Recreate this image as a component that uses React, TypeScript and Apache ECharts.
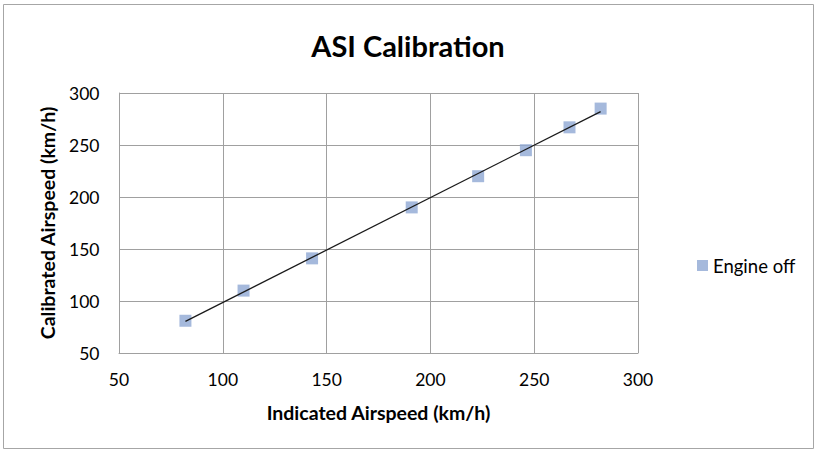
import React, { useEffect, useRef } from "react";
import * as echarts from "echarts";

const indicated: number[] = [82, 110, 143, 191, 223, 246, 267, 282];
const calibrated: number[] = [81, 110, 141, 190, 220, 245, 267, 285];
const seriesName = "Engine off";
const titleText = "ASI Calibration";
const xName = "Indicated Airspeed (km/h)";
const yName = "Calibrated Airspeed (km/h)";

function regression(xs: number[], ys: number[]) {
  const n = xs.length;
  const mx = xs.reduce((a, b) => a + b, 0) / n;
  const my = ys.reduce((a, b) => a + b, 0) / n;
  let sxy = 0, sxx = 0;
  for (let i = 0; i < n; i++) {
    sxy += (xs[i] - mx) * (ys[i] - my);
    sxx += (xs[i] - mx) * (xs[i] - mx);
  }
  const slope = sxy / sxx;
  return { slope, intercept: my - slope * mx };
}

export default function App() {
  const ref = useRef<HTMLDivElement>(null);
  useEffect(() => {
    if (!ref.current) return;
    const chart = echarts.init(ref.current, undefined, { renderer: "svg" });
    const { slope, intercept } = regression(indicated, calibrated);
    const xmin = Math.min(...indicated);
    const xmax = Math.max(...indicated);
    const font = "Lato, Carlito, Calibri, sans-serif";
    chart.setOption({
      animation: false,
      backgroundColor: "#ffffff",
      textStyle: { fontFamily: font },
      graphic: [
        {
          type: "rect",
          shape: { x: 3.5, y: 4.5, width: 810, height: 444 },
          style: { fill: "none", stroke: "#a6a6a6", lineWidth: 1 },
          silent: true,
        },
      ],
      title: {
        text: titleText,
        left: "center",
        top: 26,
        textStyle: { fontFamily: font, fontSize: 29, fontWeight: "bold", color: "#000" },
      },
      legend: {
        data: [seriesName],
        left: 692,
        top: 251,
        icon: "rect",
        itemWidth: 11,
        itemHeight: 11,
        itemGap: 5,
        textStyle: { fontFamily: font, fontSize: 18.5, color: "#000" },
      },
      grid: { left: 119, right: 178, top: 93, bottom: 99 },
      xAxis: {
        type: "value",
        min: 50,
        max: 300,
        interval: 50,
        name: xName,
        nameLocation: "middle",
        nameGap: 49,
        nameTextStyle: { fontFamily: font, fontSize: 19.5, fontWeight: "bold", color: "#000" },
        axisLine: { show: true, lineStyle: { color: "#a0a0a0", width: 1 } },
        axisTick: { show: false },
        axisLabel: { fontFamily: font, fontSize: 17.5, color: "#000", margin: 17 },
        splitLine: { show: true, lineStyle: { color: "#a0a0a0", width: 1 } },
      },
      yAxis: {
        type: "value",
        min: 50,
        max: 300,
        interval: 50,
        name: yName,
        nameLocation: "middle",
        nameGap: 62,
        nameTextStyle: { fontFamily: font, fontSize: 19.5, fontWeight: "bold", color: "#000" },
        axisLine: { show: true, lineStyle: { color: "#a0a0a0", width: 1 } },
        axisTick: { show: false },
        axisLabel: { fontFamily: font, fontSize: 17.5, color: "#000", margin: 19.5 },
        splitLine: { show: true, lineStyle: { color: "#a0a0a0", width: 1 } },
      },
      series: [
        {
          name: seriesName,
          type: "scatter",
          symbol: "rect",
          symbolSize: 12,
          itemStyle: { color: "#8ea7d3" },
          data: indicated.map((x, i) => [x, calibrated[i]]),
          z: 2,
        },
        {
          name: "trend",
          type: "line",
          symbol: "none",
          lineStyle: { color: "#1a1a1a", width: 1.3 },
          data: [
            [xmin, slope * xmin + intercept],
            [xmax, slope * xmax + intercept],
          ],
          z: 3,
        },
      ],
    });
    return () => chart.dispose();
  }, []);
  return (
    <div
      ref={ref}
      style={{ position: "fixed", left: 0, top: 0, width: 816, height: 452 }}
    />
  );
}
